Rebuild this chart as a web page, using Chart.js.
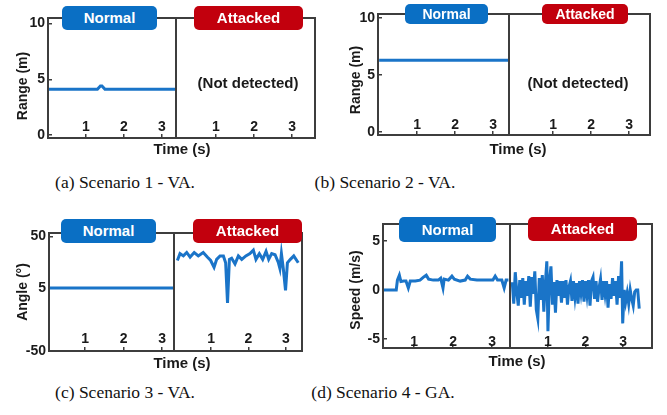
<!DOCTYPE html>
<html>
<head>
<meta charset="utf-8">
<script src="https://cdn.jsdelivr.net/npm/chart.js@4.4.1/dist/chart.umd.min.js"></script>
<style>
  body { margin: 0; background: #fff; }
  #wrap { position: relative; width: 667px; height: 415px; overflow: hidden; font-family: "Liberation Sans", Arial, sans-serif; }
  canvas { position: absolute; }
  .badge { position: absolute; color: #fff; font-weight: bold; font-size: 15px; text-align: center; border-radius: 5px; z-index: 5; }
  .blue { background: #0a6fc4; }
  .red { background: #c2000d; }
  .lbl { position: absolute; font-weight: bold; color: #1a1a1a; white-space: nowrap; transform: translate(-50%, -50%); z-index: 5; }
  .rot { transform: translate(-50%, -50%) rotate(-90deg); }
  .cap { position: absolute; font-family: "Liberation Serif", "Times New Roman", serif; font-size: 17.5px; color: #111; white-space: nowrap; transform: translate(-50%, -50%); }
</style>
</head>
<body>
<div id="wrap">
  <div class="badge blue" style="left:62px;top:6px;width:95px;height:24px;line-height:24px">Normal</div>
  <div class="badge red" style="left:194px;top:6px;width:109px;height:24px;line-height:24px">Attacked</div>
  <div class="badge blue" style="left:405px;top:4px;width:83px;height:20px;line-height:20px;font-size:14px">Normal</div>
  <div class="badge red" style="left:542px;top:4px;width:86px;height:20px;line-height:20px;font-size:14px">Attacked</div>
  <div class="badge blue" style="left:61px;top:219px;width:95px;height:24px;line-height:24px">Normal</div>
  <div class="badge red" style="left:193px;top:219px;width:109px;height:24px;line-height:24px">Attacked</div>
  <div class="badge blue" style="left:399px;top:217px;width:97px;height:25px;line-height:25px">Normal</div>
  <div class="badge red" style="left:528px;top:217px;width:109px;height:24px;line-height:24px">Attacked</div>

  <div class="lbl" style="left:248px;top:82px;font-size:15px">(Not detected)</div>
  <div class="lbl" style="left:578px;top:82px;font-size:15px">(Not detected)</div>

  <div class="lbl" style="left:182px;top:148px;font-size:15px">Time (s)</div>
  <div class="lbl" style="left:518px;top:148px;font-size:15px">Time (s)</div>
  <div class="lbl" style="left:182px;top:362px;font-size:15px">Time (s)</div>
  <div class="lbl" style="left:517px;top:360px;font-size:15px">Time (s)</div>

  <div class="lbl rot" style="left:22px;top:86px;font-size:14px">Range (m)</div>
  <div class="lbl rot" style="left:355px;top:80px;font-size:14px">Range (m)</div>
  <div class="lbl rot" style="left:22px;top:292px;font-size:14px">Angle (°)</div>
  <div class="lbl rot" style="left:355px;top:290px;font-size:14px">Speed (m/s)</div>

  <div class="cap" style="left:125px;top:182px">(a) Scenario 1 - VA.</div>
  <div class="cap" style="left:385px;top:182px">(b) Scenario 2 - VA.</div>
  <div class="cap" style="left:125px;top:392px">(c) Scenario 3 - VA.</div>
  <div class="cap" style="left:383px;top:392px">(d) Scenario 4 - GA.</div>
</div>
<script>
// tick labels
const xTicks = [1, 2, 3];
const yTicksRange = [0, 5, 10];
const yTicksAngle = [-50, 5, 50];
const yTicksSpeed = [-5, 0, 5];

// (a) Scenario 1 - range, normal
const timeA = [0, 1.30, 1.38, 1.42, 1.50, 3.37];
const rangeA = [4.1, 4.1, 4.4, 4.4, 4.1, 4.1];

// (b) Scenario 2 - range, normal
const timeB = [0, 3.42];
const rangeB = [6.3, 6.3];

// (c) Scenario 3 - angle
const timeC = [0.06, 3.31];
const angleC = [5, 5];
const timeCAtk = [0.10, 0.17, 0.26, 0.35, 0.44, 0.55, 0.66, 0.79, 0.90, 0.99, 1.08, 1.15, 1.24, 1.33, 1.39, 1.44, 1.49,
  1.55, 1.64, 1.73, 1.82, 1.93, 2.04, 2.13, 2.20, 2.29, 2.38, 2.47, 2.54, 2.62, 2.71, 2.80, 2.84, 2.88, 2.93, 2.99,
  3.04, 3.12, 3.21, 3.29, 3.33];
const angleCAtk = [29, 35, 33, 36, 32, 36, 33, 36, 32, 29, 23, 30, 33, 33, 27, -8, 30,
  31, 26, 33, 30, 33, 35, 38, 30, 35, 30, 37, 30, 35, 34, 27, 22, 35, 22, 3,
  27, 30, 33, 29, 27];

// (d) Scenario 4 - speed
const timeD = [0.21, 0.54, 0.57, 0.62, 0.66, 0.73, 0.79, 0.85, 0.90, 1.03, 1.15, 1.24, 1.31, 1.37, 1.49, 1.62, 1.68,
  1.74, 1.77, 1.88, 1.97, 2.03, 2.18, 2.31, 2.37, 2.44, 2.61, 2.86, 3.02, 3.08, 3.14, 3.25, 3.31, 3.36, 3.42];
const speedD = [0, 0, 1.0, 1.5, 0.85, 0.9, 0.9, 0.2, 0.9, 0.9, 1.0, 1.3, 1.5, 1.1, 1.0, 1.0, 1.2,
  0.2, 1.1, 1.0, 1.4, 1.1, 0.9, 1.0, 1.4, 1.1, 1.0, 1.0, 1.0, 1.4, 1.0, 1.0, 0.2, 1.0, 1.0];
const timeDAtk = [0.05, 0.09, 0.13, 0.17, 0.21, 0.25, 0.29, 0.33, 0.37, 0.41, 0.45, 0.49, 0.53, 0.57, 0.61, 0.65,
  0.69, 0.73, 0.77, 0.81, 0.85, 0.89, 0.93, 0.97, 1.00, 1.04, 1.08, 1.12, 1.16, 1.20, 1.24, 1.28, 1.32, 1.36,
  1.40, 1.44, 1.48, 1.52, 1.56, 1.60, 1.64, 1.68, 1.72, 1.76, 1.80, 1.84, 1.88, 1.92, 1.96, 2.00, 2.04, 2.08,
  2.12, 2.16, 2.20, 2.24, 2.28, 2.32, 2.36, 2.40, 2.44, 2.48, 2.52, 2.56, 2.60, 2.64, 2.68, 2.72, 2.76, 2.80,
  2.84, 2.88, 2.92, 2.96, 2.99, 3.03, 3.07, 3.11, 3.15, 3.19, 3.23, 3.27, 3.31, 3.35, 3.39, 3.43];
const speedDAtk = [0.8, -1.4, 1.8, -0.2, -1.6, 1.0, -0.8, 1.2, -1.5, 0.9, -0.6, 1.4, -1.7, 1.3, -0.4, 1.9,
  -2.0, -2.9, 1.2, -1.0, 1.5, -2.2, 0.6, 2.9, -4.2, 0.9, 2.4, -1.5, 0.8, -2.3, 1.0, -0.6, 0.9, -1.3,
  0.9, -0.8, 1.0, -1.5, 0.3, 0.9, -1.1, 0.9, -0.7, 0.7, -1.4, 0.9, -0.3, 1.0, -1.2, 0.9, -0.5, 1.0,
  -1.6, 0.9, 1.3, -0.9, 0.9, -1.2, 0.2, 1.1, -1.0, 0.9, -0.4, 0.9, -1.8, 0.6, -0.9, 1.2, -0.6, 0.9,
  -1.5, 1.4, -0.8, 2.9, -3.4, 0.0, -1.2, -0.3, -1.4, 0.0, -0.9, -1.6, -0.2, 0.0, 0.0, -1.9];

const lineColor = "#1a74c8";
const frameColor = "#3d3d3d";
const tickFont = { family: "Liberation Sans", size: 14, weight: "bold" };
const pad = 10;

// draws the box around each panel
const framePlugin = {
    id: "frame",
    afterDraw(chart) {
        const a = chart.chartArea;
        const ctx = chart.ctx;
        ctx.save();
        ctx.strokeStyle = frameColor;
        ctx.lineWidth = 2;
        ctx.strokeRect(a.left, a.top, a.right - a.left, a.bottom - a.top);
        ctx.restore();
    }
};

function makePanel(p) {
    const [L, T, R, B] = p.box;
    const yw = p.yTicks ? 30 : 0;
    const cv = document.createElement("canvas");
    cv.width = R - L + yw + 2 * pad;
    cv.height = B - T + 2 * pad;
    cv.style.left = (L - yw - pad) + "px";
    cv.style.top = (T - pad) + "px";
    document.getElementById("wrap").appendChild(cv);

    const data = p.times ? p.times.map((t, i) => ({ x: t, y: p.vals[i] })) : [];

    new Chart(cv.getContext("2d"), {
        type: "line",
        data: {
            datasets: [{ data: data, borderColor: lineColor, borderWidth: 3, pointRadius: 0, tension: 0, fill: false }]
        },
        options: {
            responsive: false,
            animation: false,
            devicePixelRatio: 1,
            layout: { padding: pad },
            plugins: { legend: { display: false }, tooltip: { enabled: false } },
            scales: {
                x: {
                    type: "linear",
                    min: p.x[0],
                    max: p.x[1],
                    afterBuildTicks: s => { s.ticks = xTicks.map(v => ({ value: v })); },
                    afterFit: s => { s.height = 0; s.paddingLeft = 0; s.paddingRight = 0; },
                    // mirror keeps the labels inside the plot, just above the axis
                    ticks: { mirror: true, font: tickFont, color: "#1a1a1a", padding: p.xLab, maxRotation: 0 },
                    grid: { display: true, drawOnChartArea: false, tickLength: -4, color: frameColor, lineWidth: 1.5 },
                    border: { display: false }
                },
                y: {
                    type: "linear",
                    min: p.y[0],
                    max: p.y[1],
                    afterBuildTicks: s => { s.ticks = (p.yTicks || []).map(v => ({ value: v })); },
                    afterFit: s => { s.width = yw; s.paddingTop = 0; s.paddingBottom = 0; },
                    ticks: { display: !!p.yTicks, font: tickFont, color: "#1a1a1a", padding: 7 },
                    grid: { display: !!p.yTicks, drawOnChartArea: false, tickLength: -4, color: frameColor, lineWidth: 1.5 },
                    border: { display: false }
                }
            }
        },
        plugins: [framePlugin]
    });
}

// (a)
makePanel({ box: [48, 18, 176, 138], x: [0, 3.37], y: [-0.27, 10.5], yTicks: yTicksRange, times: timeA, vals: rangeA, xLab: 2 });
makePanel({ box: [176, 18, 315, 138], x: [-0.05, 3.6], y: [-0.27, 10.5], xLab: 2 });
// (b)
makePanel({ box: [378, 14, 509, 135], x: [-0.03, 3.42], y: [-0.26, 10.35], yTicks: yTicksRange, times: timeB, vals: rangeB, xLab: 1 });
makePanel({ box: [509, 14, 650, 135], x: [-0.16, 3.55], y: [-0.26, 10.35], xLab: 1 });
// (c)
makePanel({ box: [49, 233, 174, 351], x: [0.06, 3.31], y: [-50, 53], yTicks: yTicksAngle, times: timeC, vals: angleC, xLab: 3 });
makePanel({ box: [174, 233, 302, 351], x: [0.01, 3.43], y: [-50, 53], times: timeCAtk, vals: angleCAtk, xLab: 3 });
// (d)
makePanel({ box: [383, 224, 510, 348], x: [0.2, 3.46], y: [-5.9, 6.7], yTicks: yTicksSpeed, times: timeD, vals: speedD, xLab: -3 });
makePanel({ box: [510, 224, 652, 348], x: [-0.01, 3.77], y: [-5.9, 6.7], times: timeDAtk, vals: speedDAtk, xLab: -3 });
</script>
</body>
</html>
